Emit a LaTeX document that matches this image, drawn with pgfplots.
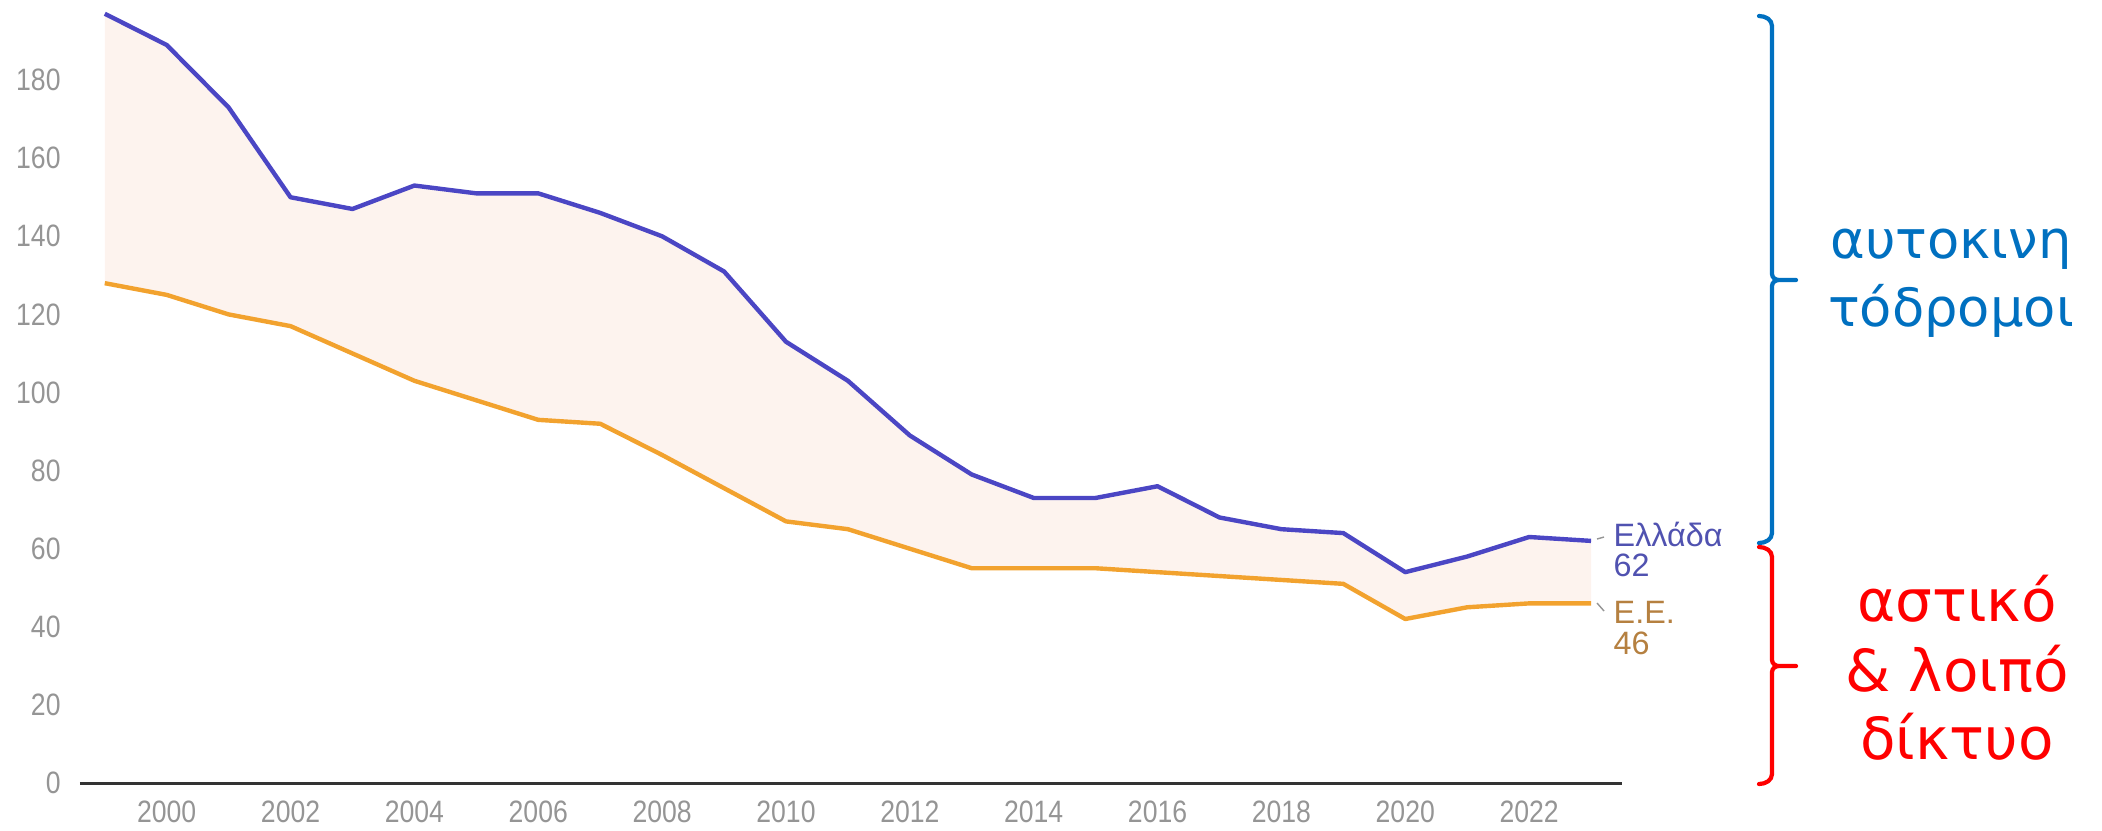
\documentclass[border=0pt]{standalone}
\usepackage{fontspec}
\setmainfont{Liberation Sans}
\newfontfamily\dejavu{DejaVu Sans}
\newfontfamily\tickfont[FakeStretch=0.86]{Liberation Sans}
\usepackage{pgfplots}
\pgfplotsset{compat=1.18}
\definecolor{grc}{HTML}{4B46C4}
\definecolor{euc}{HTML}{F2A22E}
\definecolor{fillc}{HTML}{FDF3EE}
\definecolor{tickc}{HTML}{959595}
\definecolor{grtxt}{HTML}{5052B0}
\definecolor{eutxt}{HTML}{B58040}
\definecolor{bbl}{HTML}{0070C0}
\begin{document}
\begin{tikzpicture}
\useasboundingbox (-0.80,-0.47) rectangle (20.22,7.83);
\begin{axis}[
  at={(0,0)}, anchor=south west,
  scale only axis, width=15.42cm, height=7.81cm,
  xmin=1998.6, xmax=2023.5, ymin=0, ymax=200,
  axis lines*=left,
  axis line style={draw=none},
  clip=false,
  xtick={2000,2002,...,2022},
  ytick={0,20,...,180},
  major tick length=0pt,
  /pgf/number format/1000 sep={},
  /pgf/number format/assume math mode=true,
  tick label style={font=\tickfont\fontsize{8.8}{10}\selectfont, text=tickc},
  yticklabel style={xshift=-0.07cm},
  xticklabel style={yshift=-0.05cm},
]
\addplot[fill=fillc, draw=none, forget plot] coordinates {
(1999,197)(2000,189)(2001,173)(2002,150)(2003,147)(2004,153)(2005,151)(2006,151)
(2007,146)(2008,140)(2009,131)(2010,113)(2011,103)(2012,89)(2013,79)(2014,73)
(2015,73)(2016,76)(2017,68)(2018,65)(2019,64)(2020,54)(2021,58)(2022,63)(2023,62)
(2023,46)(2022,46)(2021,45)(2020,42)(2019,51)(2018,52)(2017,53)(2016,54)(2015,55)
(2014,55)(2013,55)(2012,60)(2011,65)(2010,67)(2009,75.5)(2008,84)(2007,92)(2006,93)
(2005,98)(2004,103)(2003,110)(2002,117)(2001,120)(2000,125)(1999,128)} -- cycle;
\addplot[color=black!80, line width=0.85pt, forget plot] coordinates {(1998.6,0)(2023.5,0)};
\addplot[color=euc, line width=1.25pt, line join=round] coordinates {
(1999,128)(2000,125)(2001,120)(2002,117)(2003,110)(2004,103)(2005,98)(2006,93)
(2007,92)(2008,84)(2009,75.5)(2010,67)(2011,65)(2012,60)(2013,55)(2014,55)
(2015,55)(2016,54)(2017,53)(2018,52)(2019,51)(2020,42)(2021,45)(2022,46)(2023,46)};
\addplot[color=grc, line width=1.25pt, line join=round] coordinates {
(1999,197)(2000,189)(2001,173)(2002,150)(2003,147)(2004,153)(2005,151)(2006,151)
(2007,146)(2008,140)(2009,131)(2010,113)(2011,103)(2012,89)(2013,79)(2014,73)
(2015,73)(2016,76)(2017,68)(2018,65)(2019,64)(2020,54)(2021,58)(2022,63)(2023,62)};
\end{axis}
% end labels
\draw[tickc, line width=0.4pt] (15.17,2.44) -- (15.24,2.46);
\draw[tickc, line width=0.4pt] (15.17,1.80) -- (15.24,1.72);
\node[anchor=west, inner sep=0pt, text=grtxt, font=\fontsize{9.2}{11}\selectfont] at (15.33,2.49) {Ελλάδα};
\node[anchor=west, inner sep=0pt, text=grtxt, font=\fontsize{9.2}{11}\selectfont] at (15.33,2.18) {62};
\node[anchor=west, inner sep=0pt, text=eutxt, font=\fontsize{9.2}{11}\selectfont] at (15.33,1.71) {Ε.Ε.};
\node[anchor=west, inner sep=0pt, text=eutxt, font=\fontsize{9.2}{11}\selectfont] at (15.33,1.40) {46};
% braces
\draw[bbl, line width=1.2pt, line cap=round, line join=round]
  (16.79,7.67) to[out=0,in=90] (16.92,7.57) -- (16.92,5.09) to[out=-90,in=180] (16.99,5.03) -- (17.16,5.03)
  (16.99,5.03) to[out=180,in=90] (16.92,4.97) -- (16.92,2.50) to[out=-90,in=0] (16.79,2.40);
\draw[red, line width=1.2pt, line cap=round, line join=round]
  (16.79,2.36) to[out=0,in=90] (16.92,2.26) -- (16.92,1.23) to[out=-90,in=180] (16.99,1.17) -- (17.16,1.17)
  (16.99,1.17) to[out=180,in=90] (16.92,1.11) -- (16.92,0.09) to[out=-90,in=0] (16.79,-0.01);
\node[text=bbl, font=\dejavu\fontsize{15}{18}\selectfont, inner sep=0pt] at (18.71,5.34) {αυτοκινη};
\node[text=bbl, font=\dejavu\fontsize{15}{18}\selectfont, inner sep=0pt] at (18.71,4.72) {τόδρομοι};
\node[text=red, font=\dejavu\fontsize{16.5}{20}\selectfont, inner sep=0pt] at (18.77,1.84) {αστικό};
\node[text=red, font=\dejavu\fontsize{16.5}{20}\selectfont, inner sep=0pt] at (18.77,1.14) {\& λοιπό};
\node[text=red, font=\dejavu\fontsize{16.5}{20}\selectfont, inner sep=0pt] at (18.77,0.46) {δίκτυο};
\end{tikzpicture}
\end{document}
